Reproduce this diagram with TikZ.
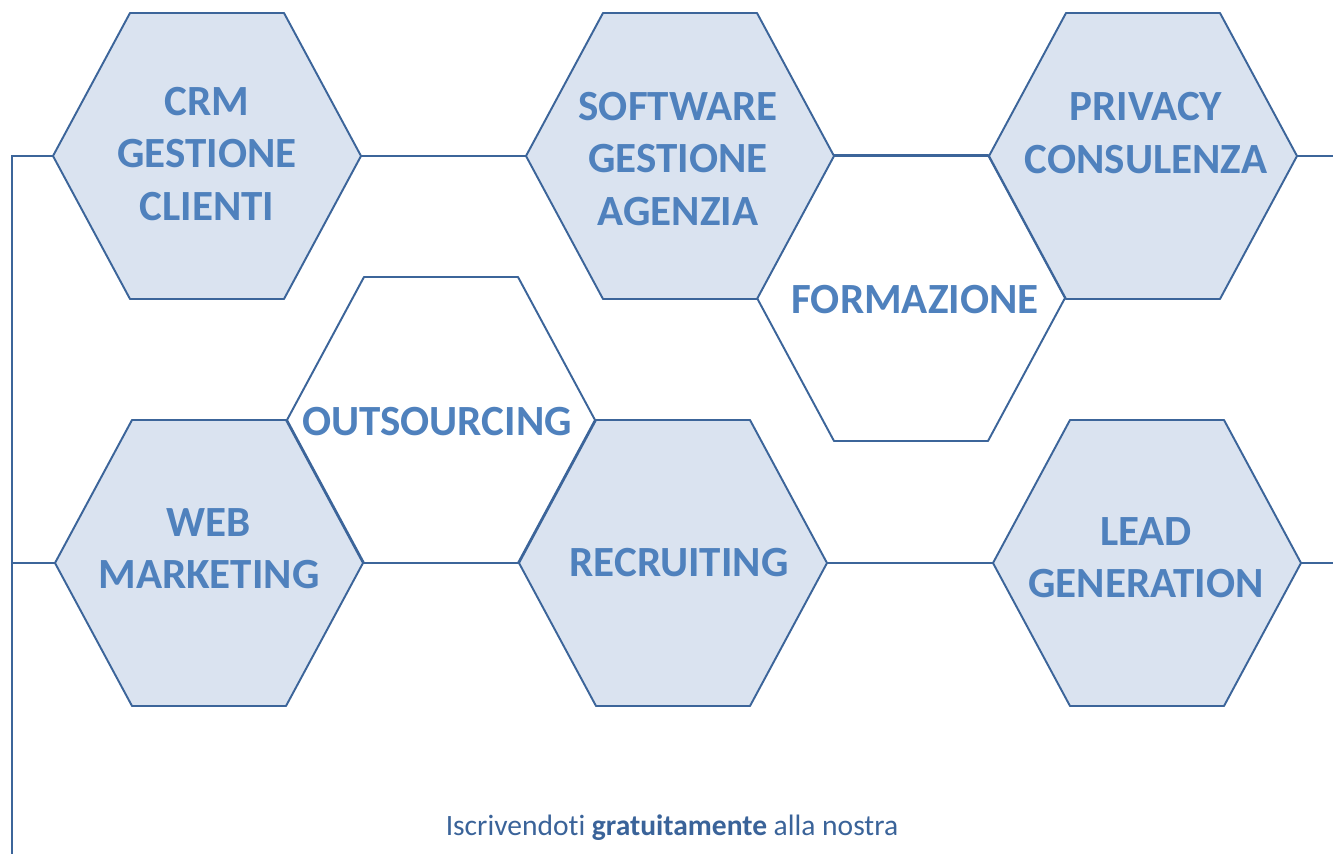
\documentclass[tikz,border=0pt]{standalone}
\usepackage{fontspec}
\setmainfont{Carlito}[Ligatures=NoCommon]
\definecolor{hexline}{HTML}{3C659A}
\definecolor{hexbg}{HTML}{DAE3F0}
\definecolor{hextext}{HTML}{4F81BD}
\definecolor{notetext}{HTML}{3A6399}
\tikzset{
  hex/.style={draw=hexline, line width=1.1pt, line join=round},
  link/.style={draw=hexline, line width=1.1pt},
  hexlabel/.style={text=hextext, font=\fontsize{24.5}{29.8}\selectfont\bfseries, align=center, inner sep=0pt},
  note/.style={text=notetext, font=\fontsize{16.8}{20}\selectfont, inner sep=0pt, anchor=base}
}
\begin{document}
\begin{tikzpicture}[x=0.02cm, y=-0.02cm]
	\useasboundingbox (0,0) rectangle (1333,854);
	% hexagons, white ones first
	\foreach \n/\x/\y/\c in {form/911/298/white, outs/441/420/white, crm/207/156/hexbg, soft/680/156/hexbg, priv/1143/156/hexbg, web/209/563/hexbg, recr/673/563/hexbg, lead/1147/563/hexbg}{
		\draw[hex, fill=\c] (\x-154,\y) -- (\x-77,\y-143) -- (\x+77,\y-143) -- (\x+154,\y) -- (\x+77,\y+143) -- (\x-77,\y+143) -- cycle;
		\coordinate (\n-w) at (\x-154,\y);
		\coordinate (\n-e) at (\x+154,\y);
	}
	\coordinate (base) at (12,854);
	\coordinate (rim) at (1333,0);
	% connectors
	\draw[link] (crm-w) -| (base);
	\draw[link] (web-w) -- (web-w -| base);
	\draw[link] (crm-e) -- (soft-w);
	\draw[link] (soft-e) -- (priv-w);
	\draw[link] (priv-e) -- (priv-e -| rim);
	\draw[link] (web-e) -- (recr-w);
	\draw[link] (recr-e) -- (lead-w);
	\draw[link] (lead-e) -- (lead-e -| rim);
	% labels
	\node[hexlabel] (crm-t) at (207,154) {CRM\\GESTIONE\\CLIENTI};
	\node[hexlabel] (soft-t) at (678,159) {SOFTWARE\\GESTIONE\\AGENZIA};
	\node[hexlabel] (priv-t) at (1146,133) {PRIVACY\\CONSULENZA};
	\node[hexlabel] (form-t) at (915,300) {FORMAZIONE};
	\node[hexlabel] (outs-t) at (437,422) {OUTSOURCING};
	\node[hexlabel] (web-t) at (209,549) {WEB\\MARKETING};
	\node[hexlabel] (recr-t) at (679,563) {RECRUITING};
	\node[hexlabel] (lead-t) at (1146,558) {LEAD\\GENERATION};
	\node[note] (note) at (672,836) {Iscrivendoti \textbf{gratuitamente} alla nostra};
\end{tikzpicture}
\end{document}
